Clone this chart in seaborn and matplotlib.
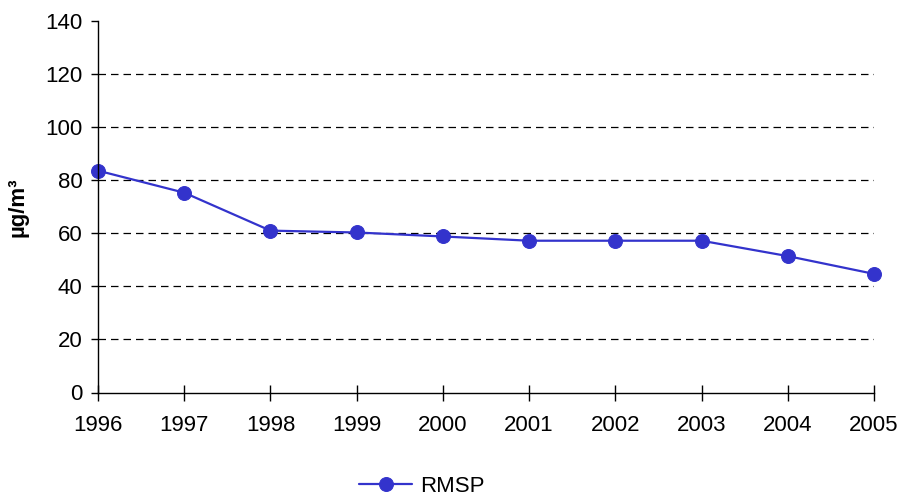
import matplotlib
matplotlib.use("Agg")
import matplotlib.pyplot as plt
import seaborn as sns
import pandas as pd

# Annual mean concentration, RMSP
years = [1996, 1997, 1998, 1999, 2000, 2001, 2002, 2003, 2004, 2005]
rmsp = [83.6, 75.3, 61.0, 60.3, 58.8, 57.2, 57.2, 57.2, 51.4, 44.7]
series_name = "RMSP"
y_ticks = [0, 20, 40, 60, 80, 100, 120, 140]
y_label = "µg/m³"

df = pd.DataFrame({"year": years, "value": rmsp})

sns.set_theme(style="white")
plt.rcParams["font.family"] = ["Liberation Sans", "DejaVu Sans"]
plt.rcParams["text.color"] = "black"
plt.rcParams["axes.labelcolor"] = "black"
plt.rcParams["xtick.color"] = "black"
plt.rcParams["ytick.color"] = "black"

fig = plt.figure(figsize=(9.01, 4.96), dpi=100)
ax = fig.add_axes([98 / 901, 1 - 392.5 / 496, (874 - 98) / 901, (392.5 - 21) / 496])

color = "#3333cc"
sns.lineplot(data=df, x="year", y="value", ax=ax, color=color, linewidth=1.6,
             marker="o", markersize=10, markeredgecolor=color, label=series_name)
for line in ax.lines:
    line.set_clip_on(False)

ax.set_xlim(years[0], years[-1])
ax.set_ylim(y_ticks[0], y_ticks[-1])
ax.set_xticks(years)
ax.set_xticklabels([str(y) for y in years])
ax.set_yticks(y_ticks)

# dashed horizontal guides between the axis and the top
for v in y_ticks[1:-1]:
    ax.axhline(v, color="black", linestyle=(0, (6, 4)), linewidth=0.9, zorder=0)

for side in ["top", "right"]:
    ax.spines[side].set_visible(False)
for side in ["left", "bottom"]:
    ax.spines[side].set_color("black")
    ax.spines[side].set_linewidth(1.0)

ax.tick_params(axis="y", direction="out", length=5, width=1, colors="black",
               labelsize=16, pad=6, left=True)
ax.tick_params(axis="x", direction="inout", length=12, width=1, colors="black",
               labelsize=16, pad=10, bottom=True)
ax.set_xlabel("")
ax.set_ylabel(y_label, fontsize=16, fontweight="bold", labelpad=12, color="black")

ax.legend(loc="center", bbox_to_anchor=(0.468, 0.02), bbox_transform=fig.transFigure,
          frameon=False, fontsize=16, handlelength=2.4, handletextpad=0.35)

fig.savefig("out.png", dpi=100)
